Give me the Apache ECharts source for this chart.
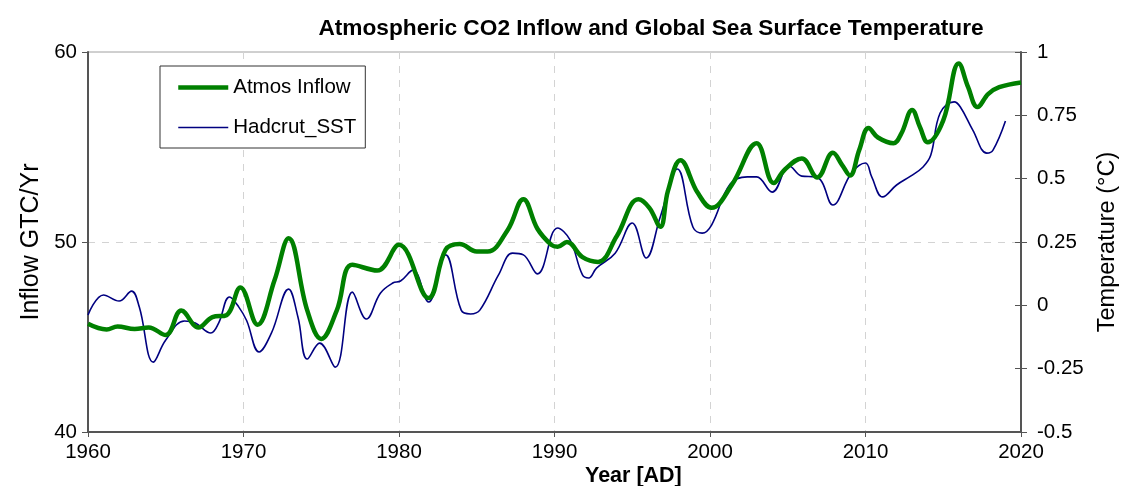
<!DOCTYPE html>
<html><head><meta charset="utf-8">
<script src="https://cdn.jsdelivr.net/npm/echarts@6/dist/echarts.min.js"></script>
<style>html,body{margin:0;padding:0;background:#fff}#c{width:1122px;height:486px}</style>
</head><body><div id="c"></div>
<script>
const chartTitle = 'Atmospheric CO2 Inflow and Global Sea Surface Temperature';
const seriesNames = ['Atmos Inflow', 'Hadcrut_SST'];

const inflowYears = [1960.0,1961.2,1961.9,1963.0,1963.9,1965.0,1966.0,1967.1,1968.0,1968.9,1969.8,1970.9,1972.0,1972.9,1974.1,1975.0,1976.0,1977.0,1978.6,1980.0,1981.9,1983.0,1983.9,1985.0,1985.7,1987.0,1988.0,1988.9,1989.8,1990.2,1990.8,1991.8,1992.8,1994.0,1995.4,1996.1,1996.8,1997.3,1998.1,1999.2,2000.1,2001.4,2003.0,2004.1,2004.8,2005.9,2006.9,2007.9,2008.5,2009.0,2009.6,2010.2,2010.8,2011.8,2012.3,2013.0,2013.5,2014.0,2015.0,2016.0,2016.6,2017.2,2017.9,2018.6,2020.0];
const inflowValues = [45.7,45.4,45.55,45.42,45.5,45.1,46.4,45.5,46.05,46.15,47.6,45.65,48.0,50.2,46.4,44.9,46.4,48.8,48.5,49.85,47.05,49.6,49.9,49.5,49.5,50.65,52.25,50.7,49.85,49.75,50.0,49.2,48.95,50.3,52.25,51.8,50.8,52.7,54.3,52.6,51.8,53.0,55.2,53.1,53.8,54.4,53.4,54.7,54.05,53.5,54.85,56.0,55.5,55.2,55.7,56.95,56.05,55.25,56.4,59.4,58.15,57.1,57.8,58.15,58.4];

const sstYears = [1960.0,1961.0,1962.0,1962.8,1963.3,1964.2,1965.0,1966.2,1966.9,1967.9,1968.4,1969.1,1969.7,1970.2,1971.0,1971.8,1972.9,1973.5,1974.1,1974.9,1975.9,1977.0,1977.9,1978.8,1979.6,1980.1,1980.9,1981.9,1983.0,1984.0,1984.6,1985.2,1986.4,1987.3,1988.0,1988.9,1990.2,1991.0,1991.8,1992.2,1992.7,1993.9,1995.0,1995.9,1996.8,1997.9,1998.9,1999.5,2000.1,2001.3,2002.4,2003.0,2004.0,2005.1,2005.9,2006.8,2007.2,2007.9,2009.1,2010.0,2010.4,2011.1,2012.0,2012.9,2013.7,2014.2,2014.8,2015.7,2016.1,2016.9,2017.8,2018.2,2019.0];
const sstValues = [-0.038,0.041,0.017,0.056,-0.007,-0.224,-0.137,-0.062,-0.07,-0.109,-0.07,0.033,-0.007,-0.06,-0.184,-0.109,0.064,-0.046,-0.212,-0.149,-0.244,0.052,-0.054,0.048,0.088,0.096,0.139,0.013,0.199,-0.019,-0.034,-0.019,0.12,0.206,0.199,0.124,0.305,0.258,0.12,0.108,0.147,0.206,0.325,0.187,0.349,0.538,0.309,0.285,0.317,0.479,0.507,0.507,0.447,0.55,0.51,0.507,0.487,0.396,0.522,0.562,0.507,0.428,0.475,0.51,0.546,0.593,0.759,0.803,0.783,0.692,0.601,0.613,0.728];

const xRange = [1960, 2020, 10];
const leftRange = [40, 60, 10];
const rightRange = [-0.5, 1, 0.25];

const FONT = "'Liberation Sans', Arial, sans-serif";
const toPairs = (xs, ys) => xs.map((x, i) => [x, ys[i]]);

const chart = echarts.init(document.getElementById('c'));
chart.setOption({
  animation: false,
  backgroundColor: '#fff',
  textStyle: { fontFamily: FONT },
  title: {
    text: chartTitle, left: 646, top: 12, textAlign: 'center',
    textStyle: { fontFamily: FONT, fontSize: 22.7, fontWeight: 'bold', color: '#000' }
  },
  grid: { left: 88, right: 101, top: 52, bottom: 54, outerBoundsMode: 'none', containLabel: false, show: true, borderColor: '#a0a0a0', borderWidth: 1, backgroundColor: 'transparent' },
  legend: {
    orient: 'vertical', left: 160, top: 66,
    padding: [11, 9, 10, 16], itemGap: 19, itemWidth: 50, itemHeight: 14,
    borderColor: '#333', borderWidth: 1, backgroundColor: '#fff',
    itemStyle: { opacity: 0 },
    textStyle: { fontFamily: FONT, fontSize: 20.5, color: '#000' },
    data: [
      { name: seriesNames[0], lineStyle: { color: '#008000', width: 4.5 } },
      { name: seriesNames[1], lineStyle: { color: '#000080', width: 1.6 } }
    ]
  },
  graphic: [{
    type: 'text', left: 585, top: 465,
    style: { text: 'Year [AD]', font: "bold 21.5px 'Liberation Sans', Arial, sans-serif", fill: '#000' }
  }],
  xAxis: {
    type: 'value', min: xRange[0], max: xRange[1], interval: xRange[2],
    axisLine: { onZero: false, lineStyle: { color: '#555', width: 2 } },
    axisTick: { show: true, length: 5, lineStyle: { color: '#555' } },
    axisLabel: { fontFamily: FONT, fontSize: 20.5, color: '#000', margin: 10, formatter: v => String(v) },
    splitLine: { show: true, lineStyle: { type: [7, 7], color: ['transparent', '#d3d3d3', '#d3d3d3', '#d3d3d3', '#d3d3d3', '#d3d3d3', 'transparent'] } }
  },
  yAxis: [{
    type: 'value', position: 'left', min: leftRange[0], max: leftRange[1], interval: leftRange[2],
    name: 'Inflow GTC/Yr', nameLocation: 'middle', nameGap: 44, nameRotate: 90,
    nameTextStyle: { fontFamily: FONT, fontSize: 25, color: '#000' },
    axisLine: { show: true, onZero: false, lineStyle: { color: '#555', width: 2 } },
    axisTick: { show: true, length: 6, lineStyle: { color: '#555' } },
    axisLabel: { fontFamily: FONT, fontSize: 20.5, color: '#000', margin: 11 },
    splitLine: { show: true, lineStyle: { type: [7, 7], color: ['transparent', '#d3d3d3', 'transparent'] } }
  }, {
    type: 'value', position: 'right', min: rightRange[0], max: rightRange[1], interval: rightRange[2],
    alignTicks: false,
    name: 'Temperature (°C)', nameLocation: 'middle', nameGap: 75, nameRotate: 90,
    nameTextStyle: { fontFamily: FONT, fontSize: 23.5, color: '#000' },
    axisLine: { show: true, onZero: false, lineStyle: { color: '#555', width: 2 } },
    axisTick: { show: true, length: 6, lineStyle: { color: '#555' } },
    axisLabel: { fontFamily: FONT, fontSize: 20.5, color: '#000', margin: 16 },
    splitLine: { show: false }
  }, {
    type: 'value', position: 'right', min: rightRange[0], max: rightRange[1], interval: rightRange[2],
    alignTicks: false,
    axisLine: { show: false, onZero: false },
    axisTick: { show: true, inside: true, length: 6, lineStyle: { color: '#555' } },
    axisLabel: { show: false },
    splitLine: { show: false }
  }],
  series: [{
    name: seriesNames[0], type: 'line', yAxisIndex: 0, smooth: 0.4, symbol: 'none', z: 3,
    lineStyle: { color: '#008000', width: 4.5 }, itemStyle: { color: '#008000' },
    data: toPairs(inflowYears, inflowValues)
  }, {
    name: seriesNames[1], type: 'line', yAxisIndex: 1, smooth: 0.4, symbol: 'none', z: 2,
    lineStyle: { color: '#000080', width: 1.6 }, itemStyle: { color: '#000080' },
    data: toPairs(sstYears, sstValues)
  }]
});
</script></body></html>
